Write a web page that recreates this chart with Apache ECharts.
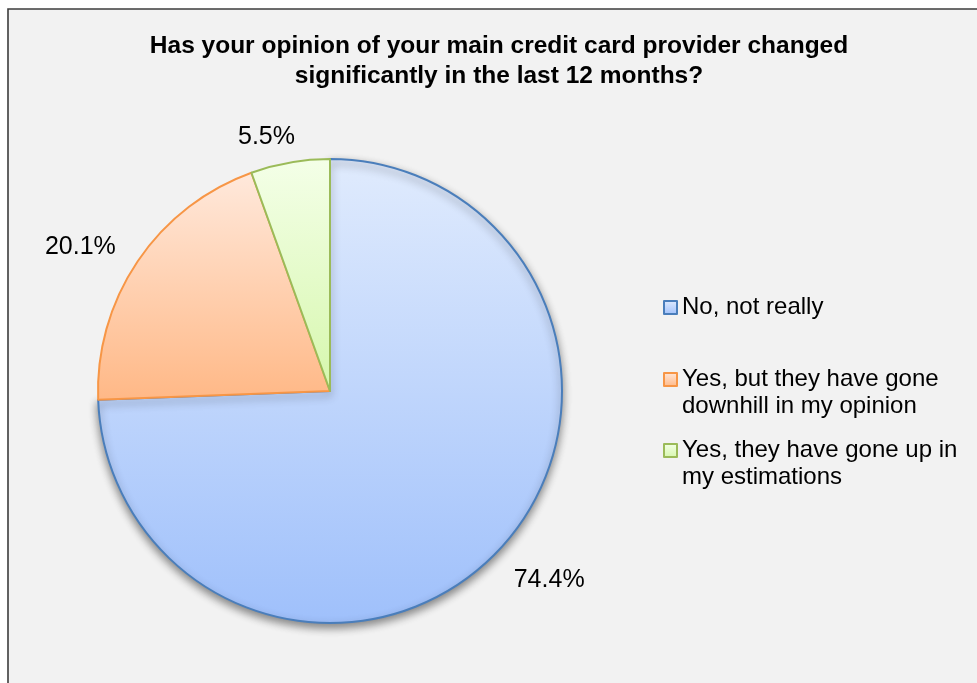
<!DOCTYPE html>
<html>
<head>
<meta charset="utf-8">
<title>Credit card provider opinion</title>
<script src="https://cdn.jsdelivr.net/npm/echarts@6/dist/echarts.min.js"></script>
<style>
  html, body { margin: 0; padding: 0; background: #ffffff; }
  #chart { width: 977px; height: 683px; }
</style>
</head>
<body>
<div id="chart"></div>
<script>
// Survey answers and their shares (%)
const categories = [
  'No, not really',
  'Yes, but they have gone downhill in my opinion',
  'Yes, they have gone up in my estimations'
];
const shares = [74.4, 20.1, 5.5];

// Legend text, wrapped the way it is shown beside the pie
const legendLabels = [
  'No, not really',
  'Yes, but they have gone\ndownhill in my opinion',
  'Yes, they have gone up in\nmy estimations'
];

// Slice fills (top -> bottom gradient) and outlines
const fillTop = ['#e0ebfd', '#ffe9dc', '#f4ffe8'];
const fillBottom = ['#9fc0fb', '#ffb886', '#d6f7ad'];
const outline = ['#4a7ebb', '#f79646', '#9bbb59'];

const chart = echarts.init(document.getElementById('chart'));

const pieData = categories.map((name, i) => ({
  name: name,
  value: shares[i],
  itemStyle: {
    color: new echarts.graphic.LinearGradient(0, 0, 0, 1, [
      { offset: 0, color: fillTop[i] },
      { offset: 1, color: fillBottom[i] }
    ]),
    borderColor: outline[i],
    borderWidth: 2,
    shadowBlur: i === 0 ? 9 : 0,
    shadowOffsetY: i === 0 ? 4 : 0,
    shadowColor: 'rgba(0,0,0,0.45)'
  }
}));

// Wrapped legend text gets a blank leading line so the swatch lines up
// with the first text line instead of the middle of the block.
function legendText(i) {
  const t = legendLabels[i];
  return t.indexOf('\n') >= 0 ? '\u00a0\n' + t : t;
}

// One legend block per answer so each can sit at its own height
const legendTops = [294, 339, 410];
const legends = categories.map((name, i) => ({
  data: [name],
  orient: 'vertical',
  left: 663,
  top: legendTops[i],
  padding: 0,
  icon: 'rect',
  itemWidth: 13,
  itemHeight: 13,
  itemGap: 0,
  selectedMode: false,
  formatter: () => legendText(i),
  textStyle: {
    fontFamily: 'Liberation Sans, Arial, sans-serif',
    fontSize: 24,
    lineHeight: 27,
    color: '#000000'
  }
}));

// Small nudges that set the percentage labels a little off the default
// outside spot, closer to where a spreadsheet would put them.
const labelNudge = [[-5, 7], [3, 3], [10, 4]];

chart.setOption({
  backgroundColor: '#ffffff',
  animation: false,
  graphic: [{
    type: 'rect',
    z: -10,
    shape: { x: 8, y: 9, width: 1000, height: 700 },
    style: { fill: '#f2f2f2', stroke: '#3c3c3c', lineWidth: 1.6 }
  }],
  title: {
    text: 'Has your opinion of your main credit card provider changed\nsignificantly in the last 12 months?',
    left: 494,
    top: 26,
    textAlign: 'center',
    textStyle: {
      fontFamily: 'Liberation Sans, Arial, sans-serif',
      fontWeight: 'bold',
      fontSize: 24.5,
      lineHeight: 30,
      color: '#000000'
    }
  },
  legend: legends,
  series: [{
    type: 'pie',
    center: [330, 391],
    radius: 232,
    startAngle: 90,
    clockwise: true,
    avoidLabelOverlap: false,
    data: pieData,
    label: {
      show: true,
      position: 'outside',
      formatter: p => p.value.toFixed(1) + '%',
      fontFamily: 'Liberation Sans, Arial, sans-serif',
      fontSize: 25,
      color: '#000000',
      distanceToLabelLine: 0
    },
    labelLine: { show: false, length: 30, length2: 0 },
    labelLayout: p => ({ dx: labelNudge[p.dataIndex][0], dy: labelNudge[p.dataIndex][1] }),
    emphasis: { disabled: true }
  }]
});
</script>
</body>
</html>
